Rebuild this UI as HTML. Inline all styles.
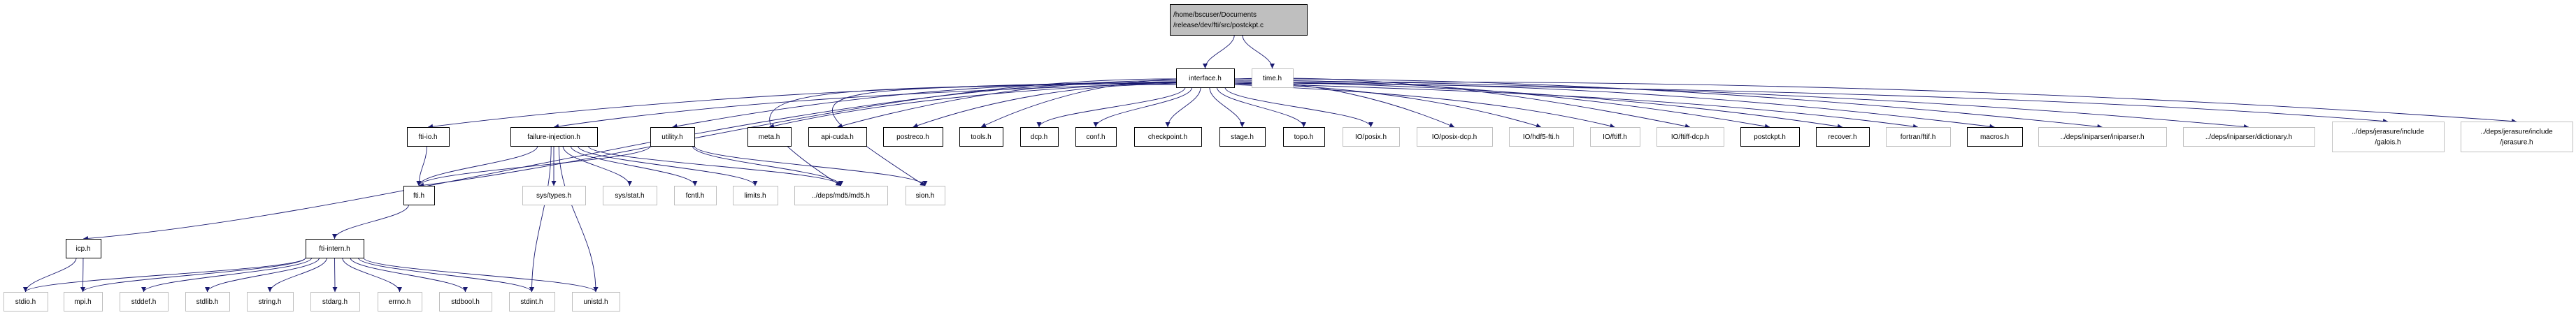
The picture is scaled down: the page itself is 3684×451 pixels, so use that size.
<!DOCTYPE html>
<html><head><meta charset="utf-8"><style>
html,body{margin:0;padding:0;background:#fff;}
svg{display:block;}
text{font-family:"Liberation Sans",sans-serif;font-size:10px;fill:#000;}
</style></head><body>
<svg id="g" width="3684" height="451" viewBox="0 0 3684 451" xmlns="http://www.w3.org/2000/svg">
<defs><marker id="ah" viewBox="0 0 10 10" refX="10" refY="5" markerWidth="10" markerHeight="7" markerUnits="userSpaceOnUse" orient="auto"><path d="M0,0 L10,5 L0,10 z" fill="#191970"/></marker></defs>
<g id="edges"></g><g id="nodes"></g>
</svg>
<script>
const nodeIds=["root","interface","time","ftiio","fi","utility","meta","apicuda","postreco","tools","dcp","conf","checkpoint","stage","topo","posix","posixdcp","hdf5","ftiff","ftiffdcp","postckpt","recover","fortran","macros","iniparser","dictionary","galois","jerasure","fti","systypes","sysstat","fcntl","limits","md5","sion","icp","intern","stdio","mpi","stddef","stdlib","string","stdarg","errno","stdbool","stdint","unistd"];
const nodeLabels=[["/home/bscuser/Documents","/release/dev/fti/src/postckpt.c"],["interface.h"],["time.h"],["fti-io.h"],["failure-injection.h"],["utility.h"],["meta.h"],["api-cuda.h"],["postreco.h"],["tools.h"],["dcp.h"],["conf.h"],["checkpoint.h"],["stage.h"],["topo.h"],["IO/posix.h"],["IO/posix-dcp.h"],["IO/hdf5-fti.h"],["IO/ftiff.h"],["IO/ftiff-dcp.h"],["postckpt.h"],["recover.h"],["fortran/ftif.h"],["macros.h"],["../deps/iniparser/iniparser.h"],["../deps/iniparser/dictionary.h"],["../deps/jerasure/include","/galois.h"],["../deps/jerasure/include","/jerasure.h"],["fti.h"],["sys/types.h"],["sys/stat.h"],["fcntl.h"],["limits.h"],["../deps/md5/md5.h"],["sion.h"],["icp.h"],["fti-intern.h"],["stdio.h"],["mpi.h"],["stddef.h"],["stdlib.h"],["string.h"],["stdarg.h"],["errno.h"],["stdbool.h"],["stdint.h"],["unistd.h"]];
const nodeBox=[[1673,1869,6,50,0],[1682,1765,98,125,1],[1790,1849,98,125,2],[582,642,182,209,1],[730,854,182,209,1],[930,993,182,209,1],[1069,1131,182,209,1],[1156,1239,182,209,1],[1263,1348,182,209,1],[1372,1434,182,209,1],[1459,1513,182,209,1],[1538,1596,182,209,1],[1622,1718,182,209,1],[1744,1809,182,209,1],[1835,1894,182,209,1],[1920,2001,182,209,2],[2026,2134,182,209,2],[2158,2250,182,209,2],[2274,2345,182,209,2],[2369,2465,182,209,2],[2489,2573,182,209,1],[2597,2673,182,209,1],[2697,2789,182,209,2],[2813,2892,182,209,1],[2915,3098,182,209,2],[3122,3310,182,209,2],[3335,3495,174,217,2],[3519,3679,174,217,2],[577,621,266,293,1],[747,837,266,293,2],[862,939,266,293,2],[964,1024,266,293,2],[1048,1112,266,293,2],[1136,1269,266,293,2],[1295,1351,266,293,2],[94,144,342,369,1],[437,520,342,369,1],[5,68,418,445,2],[91,146,418,445,2],[171,240,418,445,2],[265,328,418,445,2],[353,419,418,445,2],[444,514,418,445,2],[540,603,418,445,2],[628,703,418,445,2],[728,793,418,445,2],[818,886,418,445,2]];
const edgeFrom=["root","root","interface","interface","interface","interface","interface","interface","interface","interface","interface","interface","interface","interface","interface","interface","interface","interface","interface","interface","interface","interface","interface","interface","interface","interface","interface","interface","interface","interface","interface","ftiio","fi","fi","fi","fi","fi","fi","fi","fi","utility","utility","utility","fti","icp","icp","intern","intern","intern","intern","intern","intern","intern","intern","intern","intern"];
const edgeTo=["interface","time","ftiio","fi","utility","fti","icp","meta","apicuda","postreco","tools","dcp","conf","checkpoint","stage","topo","posix","posixdcp","hdf5","ftiff","ftiffdcp","postckpt","recover","fortran","macros","iniparser","dictionary","galois","jerasure","md5","sion","fti","fti","systypes","sysstat","fcntl","limits","md5","stdint","unistd","fti","md5","sion","intern","stdio","mpi","stdio","mpi","stddef","stdlib","string","stdarg","errno","stdbool","stdint","unistd"];
const NS="http://www.w3.org/2000/svg";
const eg=document.getElementById('edges'), ng=document.getElementById('nodes');
const idx={}; nodeIds.forEach((n,i)=>idx[n]=i);
function box(id){const b=nodeBox[idx[id]];return {x1:b[0],x2:b[1],y1:b[2],y2:b[3],cx:(b[0]+b[1])/2};}
for(let i=0;i<edgeFrom.length;i++){
  const s=box(edgeFrom[i]), t=box(edgeTo[i]);
  let sx,sy,d;
  const tx=t.cx, ty=t.y1;
  if(edgeFrom[i]==="interface" && (edgeTo[i]==="md5"||edgeTo[i]==="sion")){
    sx=s.x1; sy=118;
    d=`M${sx},${sy} C${sx-550},${sy+12} ${tx-230},${ty-150} ${tx},${ty}`;
  } else if(edgeFrom[i]==="interface" && Math.abs(tx-s.cx)>300){
    sx = tx<s.cx ? s.x1 : s.x2; sy = 113 + (i%5)*2;
    const dx=tx-sx;
    d=`M${sx},${sy} C${sx+dx*0.35},${sy-8+(i%4)*6} ${tx-dx*0.3},${ty-40} ${tx},${ty}`;
  } else {
    sx=s.cx+(tx-s.cx)*0.12; if(sx<s.x1)sx=s.x1; if(sx>s.x2)sx=s.x2; sy=s.y2;
    const dy=(ty-sy)*0.4;
    d=`M${sx},${sy} C${sx},${sy+dy} ${tx},${ty-dy} ${tx},${ty}`;
  }
  const p=document.createElementNS(NS,'path');
  p.setAttribute('d',d);p.setAttribute('fill','none');p.setAttribute('stroke','#191970');p.setAttribute('stroke-width','0.9');p.setAttribute('marker-end','url(#ah)');
  
  
  eg.appendChild(p);
}
for(let i=0;i<nodeIds.length;i++){
  const b=nodeBox[i], L=nodeLabels[i];
  const g=document.createElementNS(NS,'g');
  
  
  const r=document.createElementNS(NS,'rect');
  r.setAttribute('x',b[0]+0.5);r.setAttribute('y',b[2]+0.5);r.setAttribute('width',b[1]-b[0]);r.setAttribute('height',b[3]-b[2]);
  r.setAttribute('fill',b[4]===0?'#bfbfbf':'#fff');r.setAttribute('stroke',b[4]===2?'#bfbfbf':'#000');r.setAttribute('stroke-width','1');
  g.appendChild(r);
  const cy=(b[2]+b[3])/2;
  L.forEach((s,k)=>{
    const t=document.createElementNS(NS,'text');
    t.setAttribute('x',b[4]===0?b[0]+5:(b[0]+b[1])/2);
    t.setAttribute('text-anchor',b[4]===0?'start':'middle');
    t.setAttribute('y',cy+3.5+(k-(L.length-1)/2)*15);
    t.textContent=s; g.appendChild(t);
  });
  ng.appendChild(g);
}
</script>
</body></html>
